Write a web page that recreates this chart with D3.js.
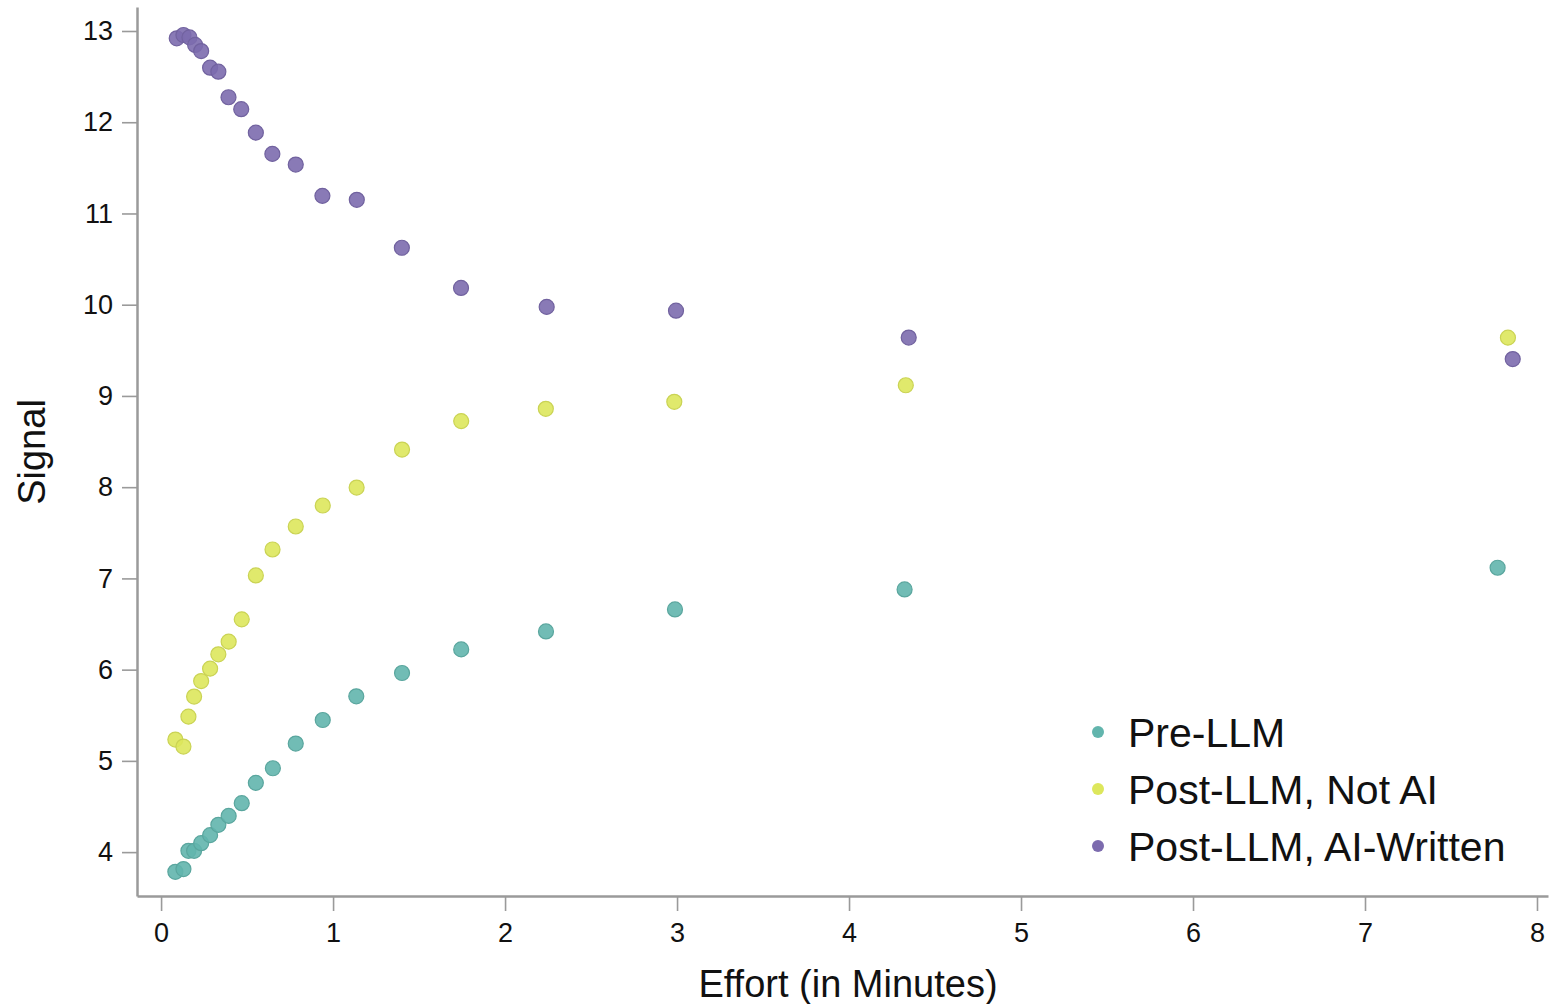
<!DOCTYPE html>
<html>
<head>
<meta charset="utf-8">
<script src="https://cdnjs.cloudflare.com/ajax/libs/d3/7.8.5/d3.min.js"></script>
<style>
  body { margin: 0; background: #fff; }
  text { font-family: "Liberation Sans", Arial, Helvetica, sans-serif; fill: #111; }
</style>
</head>
<body>
<script>
//Width and height
var w = 1550;
var h = 1004;

//series names and colors
var seriesNames = ["Pre-LLM", "Post-LLM, Not AI", "Post-LLM, AI-Written"];
var seriesColors = ["#62b5ad", "#dde75c", "#7c6bae"];

//effort (minutes) for each binned point, per series
var xPre = [0.083, 0.130, 0.159, 0.192, 0.233, 0.285, 0.333, 0.393, 0.469, 0.551,
            0.650, 0.783, 0.940, 1.135, 1.401, 1.745, 2.238, 2.988, 4.323, 7.771];
var xNotAI = [0.083, 0.130, 0.159, 0.192, 0.233, 0.285, 0.333, 0.393, 0.469, 0.551,
              0.648, 0.783, 0.940, 1.137, 1.401, 1.745, 2.237, 2.984, 4.330, 7.831];
var xAI = [0.091, 0.130, 0.165, 0.198, 0.233, 0.285, 0.333, 0.392, 0.466, 0.551,
           0.647, 0.783, 0.938, 1.138, 1.400, 1.744, 2.242, 2.994, 4.347, 7.859];

//signal values
var yPre = [3.784, 3.814, 4.014, 4.014, 4.098, 4.186, 4.299, 4.397, 4.536, 4.759,
            4.919, 5.190, 5.448, 5.708, 5.963, 6.222, 6.419, 6.660, 6.879, 7.117];
var yNotAI = [5.234, 5.157, 5.485, 5.705, 5.875, 6.011, 6.168, 6.307, 6.551, 7.033,
              7.317, 7.569, 7.799, 7.996, 8.412, 8.724, 8.859, 8.936, 9.117, 9.639];
var yAI = [12.920, 12.956, 12.930, 12.847, 12.780, 12.598, 12.554, 12.274, 12.143, 11.886,
           11.653, 11.536, 11.193, 11.150, 10.624, 10.184, 9.976, 9.934, 9.640, 9.404];

//tick labels
var xTicks = [0, 1, 2, 3, 4, 5, 6, 7, 8];
var yTicks = [4, 5, 6, 7, 8, 9, 10, 11, 12, 13];

//build point table from the arrays
var seriesX = [xPre, xNotAI, xAI];
var seriesY = [yPre, yNotAI, yAI];
var points = [];
for (var s = 0; s < seriesNames.length; s++) {
    for (var i = 0; i < seriesX[s].length; i++) {
        points.push({ s: s, x: seriesX[s][i], y: seriesY[s][i] });
    }
}

//plot area (names avoid window.top)
var plotLeft = 137, plotRight = 1548, plotTop = 7, plotBottom = 896;

//scales
var x = d3.scaleLinear().domain([-0.140, 8.064]).range([plotLeft, plotRight]);
var y = d3.scaleLinear().domain([3.519, 13.263]).range([plotBottom, plotTop]);

//Create SVG element
var svg = d3.select("body")
            .append("svg")
            .attr("width", w)
            .attr("height", h);

//x axis
var xAxis = svg.append("g")
    .attr("transform", "translate(0," + plotBottom + ")")
    .call(d3.axisBottom(x).tickValues(xTicks).tickSize(15).tickSizeOuter(0).tickPadding(12).tickFormat(d3.format("d")));
xAxis.select(".domain").attr("stroke", "#9a9a9a").attr("stroke-width", 2.5);
xAxis.selectAll(".tick line").attr("stroke", "#9a9a9a").attr("stroke-width", 1.6);
xAxis.selectAll(".tick text").attr("font-size", 27).attr("fill", "#111");

//y axis
var yAxis = svg.append("g")
    .attr("transform", "translate(" + plotLeft + ",0)")
    .call(d3.axisLeft(y).tickValues(yTicks).tickSize(15).tickSizeOuter(0).tickPadding(9).tickFormat(d3.format("d")));
yAxis.select(".domain").attr("stroke", "#9a9a9a").attr("stroke-width", 2.5);
yAxis.selectAll(".tick line").attr("stroke", "#9a9a9a").attr("stroke-width", 1.6);
yAxis.selectAll(".tick text").attr("font-size", 27).attr("fill", "#111");

//axis titles
svg.append("text")
   .attr("x", 848)
   .attr("y", 997)
   .attr("text-anchor", "middle")
   .attr("font-size", 38)
   .text("Effort (in Minutes)");

svg.append("text")
   .attr("transform", "translate(45," + 452 + ") rotate(-90)")
   .attr("text-anchor", "middle")
   .attr("font-size", 38)
   .text("Signal");

//points
svg.append("g")
   .selectAll("circle")
   .data(points)
   .enter()
   .append("circle")
   .attr("cx", function(d) { return x(d.x); })
   .attr("cy", function(d) { return y(d.y); })
   .attr("r", 7.5)
   .attr("fill", function(d) { return seriesColors[d.s]; })
   .attr("fill-opacity", 0.9)
   .attr("stroke", function(d) { return d3.color(seriesColors[d.s]).darker(0.25); })
   .attr("stroke-width", 1.2);

//legend
var legend = svg.append("g")
    .selectAll("g")
    .data(seriesNames)
    .enter()
    .append("g")
    .attr("transform", function(d, i) { return "translate(1098," + (732 + i * 57) + ")"; });

legend.append("circle")
      .attr("r", 6)
      .attr("fill", function(d, i) { return seriesColors[i]; });

legend.append("text")
      .attr("x", 30)
      .attr("y", 15)
      .attr("font-size", 41)
      .text(function(d) { return d; });
</script>
</body>
</html>
